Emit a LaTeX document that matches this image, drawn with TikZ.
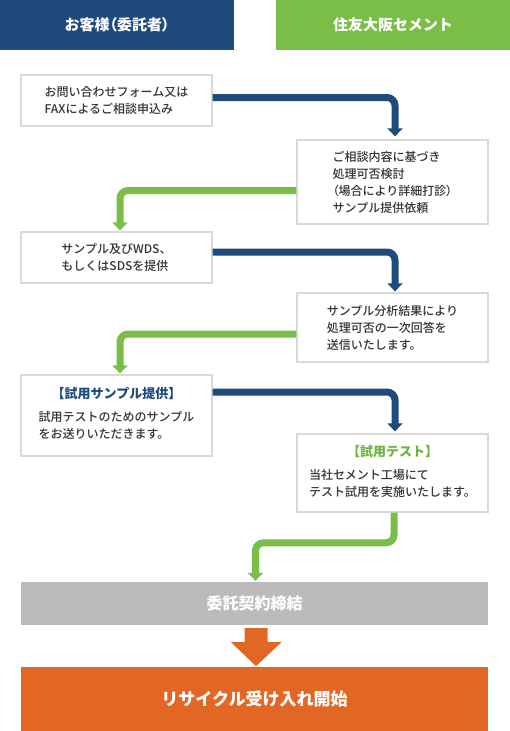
\documentclass[tikz,border=0pt]{standalone}
\usepackage{fontspec}
\setmainfont{Noto Sans CJK JP}
\newfontfamily\medfont{Noto Sans CJK JP Medium}
\newfontfamily\paltfont{Noto Sans CJK JP}[RawFeature=+palt]
\newfontfamily\paltmed{Noto Sans CJK JP Medium}[RawFeature=+palt]
\usetikzlibrary{calc,arrows.meta}
\definecolor{hblue}{HTML}{1E4A7C}
\definecolor{hgreen}{HTML}{7ABD47}
\definecolor{tgreen}{HTML}{6CB33F}
\definecolor{boxline}{HTML}{D9D9D9}
\definecolor{bodytext}{HTML}{333333}
\definecolor{cgray}{HTML}{BBBBBB}
\definecolor{corange}{HTML}{E36724}
\begin{document}
\begin{tikzpicture}[x=1pt,y=-1pt,
  header/.style={minimum width=234pt, minimum height=50pt, inner sep=0pt, text=white, font=\fontsize{15}{18}\selectfont\bfseries},
  box/.style={draw=boxline, line width=1.3pt, fill=white, minimum width=191pt, inner sep=0pt, text=bodytext, font=\fontsize{12}{17}\selectfont\medfont, align=left},
  band/.style={minimum width=467pt, inner sep=0pt, text=white},
  flowb/.style={draw=hblue, line width=7pt, rounded corners=8pt, -{Triangle[width=15pt,length=8pt]}},
  flowg/.style={draw=hgreen, line width=7pt, rounded corners=8pt, -{Triangle[width=15pt,length=8pt]}}]
\useasboundingbox (0,0) rectangle (510,731);
\node[header, fill=hblue] (hl) at (117,25) {お客様{\paltfont\bfseries（}委託者{\paltfont\bfseries）}};
\node[header, fill=hgreen] (hr) at (393,25) {住友大阪セメント};

\node[box, minimum height=51pt] (b1) at (116.5,100.5) {お問い合わせフォーム又は\\FAXによるご相談申込み};
\node[box, minimum height=84pt] (b2) at (392.5,182) {ご相談内容に基づき\\処理可否検討\\{\paltmed（}場合により詳細打診{\paltmed）}\\サンプル提供依頼};
\node[box, minimum height=51pt] (b3) at (116.5,257.5) {サンプル及びWDS、\\もしくはSDSを提供};
\node[box, minimum height=69pt] (b4) at (392.5,327.5) {サンプル分析結果により\\処理可否の一次回答を\\送信いたします。};
\node[box, minimum height=81pt] (b5) at (116.5,415.5) {\begin{tabular}{@{}l@{}}\multicolumn{1}{@{}c@{}}{\textcolor{hblue}{\fontsize{13}{17}\selectfont\rmfamily\bfseries【試用サンプル提供】}}\\[6pt]試用テストのためのサンプル\\をお送りいただきます。\end{tabular}};
\node[box, minimum height=78pt] (b6) at (392.5,473) {\begin{tabular}{@{}l@{}}\multicolumn{1}{@{}c@{}}{\textcolor{tgreen}{\fontsize{13}{17}\selectfont\rmfamily\bfseries【試用テスト】}}\\[6pt]当社セメント工場にて\\テスト試用を実施いたします。\end{tabular}};

\node[band, fill=cgray, minimum height=43pt, font=\fontsize{16}{19}\selectfont\bfseries] (g) at (254.5,603.5) {委託契約締結};
\node[band, fill=corange, minimum height=64pt, font=\fontsize{17}{20}\selectfont\bfseries] (o) at (254.5,699) {リサイクル受け入れ開始};

\draw[flowb] ($(b1.east)+(0,-3)$) -| ($(b2.north)+(2.5,-3)$);
\draw[flowg] ($(b2.west)+(0,8.5)$) -| ($(b3.north)+(3.5,-1)$);
\draw[flowb] ($(b3.east)+(0,-5.5)$) -| ($(b4.north)+(2.5,-1)$);
\draw[flowg] ($(b4.west)+(0,6.5)$) -| ($(b5.north)+(3.5,-1)$);
\draw[flowb] ($(b5.east)+(0,-23.5)$) -| ($(b6.north)+(2.5,-2)$);
\draw[flowg] ($(b6.south)+(1.5,0)$) |- ($(g.north)+(1,-39)$) -- ($(g.north)+(1,-1)$);

\fill[corange] ($(g.south)+(-10,3)$) -- ++(23,0) -- ++(0,14) -- ++(14,0) -- ($(g.south)+(1.5,41)$) -- ($(g.south)+(-23.5,17)$) -- ++(13.5,0) -- cycle;
\end{tikzpicture}
\end{document}
